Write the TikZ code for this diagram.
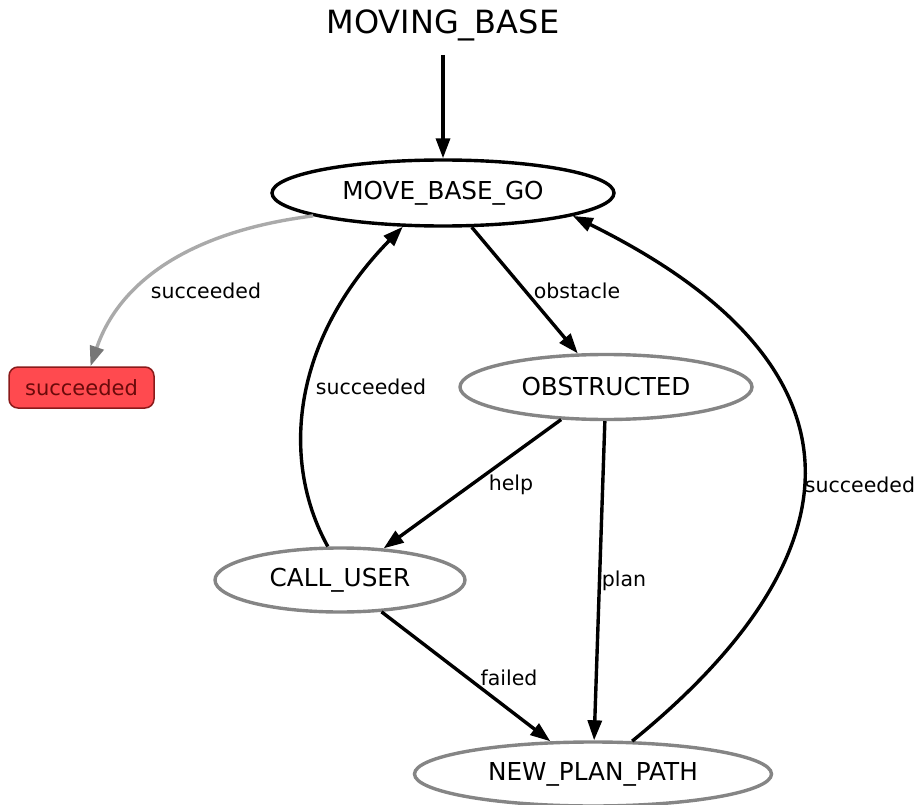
\documentclass[tikz,border=0pt]{standalone}
\usepackage{fontspec}
\setmainfont{DejaVu Sans}
\usetikzlibrary{shapes.geometric,arrows.meta,calc}
\definecolor{boxred}{HTML}{FF4A4F}
\definecolor{boxborder}{HTML}{8B1A1A}
\definecolor{boxtext}{HTML}{6A0A0A}
\definecolor{edgegrey}{HTML}{AAAAAA}
\definecolor{tipgrey}{HTML}{777777}
\definecolor{nodegrey}{HTML}{858585}
\tikzset{
  state/.style={ellipse, draw=nodegrey, line width=3.4pt, fill=white, inner sep=0pt,
    font=\fontsize{24.7}{30}\selectfont},
  active/.style={state, draw=black},
  edge/.style={line width=3.4pt, -{Triangle[length=20pt,width=14pt]}},
  lbl/.style={font=\fontsize{20.5}{24}\selectfont, inner sep=0pt},
}
\begin{document}
\begin{tikzpicture}[x=1pt,y=-1pt]
\useasboundingbox (0,0) rectangle (921,805);
\node[font=\fontsize{32}{36}\selectfont, inner sep=0pt] (title) at (443,25) {MOVING\_BASE};
\node[active, minimum width=342pt, minimum height=66pt] (mbg) at (443,193) {MOVE\_BASE\_GO};
\node[state, minimum width=292pt, minimum height=65pt] (obs) at (606,387) {OBSTRUCTED};
\node[state, minimum width=250pt, minimum height=64pt] (cu) at (340,580) {CALL\_USER};
\node[state, minimum width=357pt, minimum height=64pt] (npp) at (593,774) {NEW\_PLAN\_PATH};
\node[draw=boxborder, fill=boxred, line width=1.5pt, rounded corners=9pt,
  minimum width=145pt, minimum height=41pt, inner sep=0pt, text=boxtext,
  font=\fontsize{21}{25}\selectfont] (sbox) at (81.5,387.5) {succeeded};

\coordinate (tstart) at (443,55);
\draw[edge] (tstart) -- (mbg.north);
\draw[line width=3.4pt, draw=edgegrey, -{Triangle[length=20pt,width=14pt,color=tipgrey]}]
  (mbg.190) .. controls (185,232) and (118,285) .. ([xshift=9pt]sbox.north);
\draw[edge] (mbg) -- (obs);
\draw[edge] (obs) -- (cu);
\draw[edge] (obs) -- (npp);
\draw[edge] (cu) -- (npp);
\draw[edge] (cu.110) .. controls (280,460) and (292,340) .. (mbg.220);
\draw[edge] (npp.40) .. controls (855,560) and (885,370) .. (mbg.-10);

\node[lbl] (l1) at (206,291) {succeeded};
\node[lbl] (l2) at (577,291) {obstacle};
\node[lbl] (l3) at (371,387) {succeeded};
\node[lbl] (l4) at (511,485) {help};
\node[lbl] (l5) at (860,485) {succeeded};
\node[lbl] (l6) at (624,581) {plan};
\node[lbl] (l7) at (509,678) {failed};
\end{tikzpicture}
\end{document}
